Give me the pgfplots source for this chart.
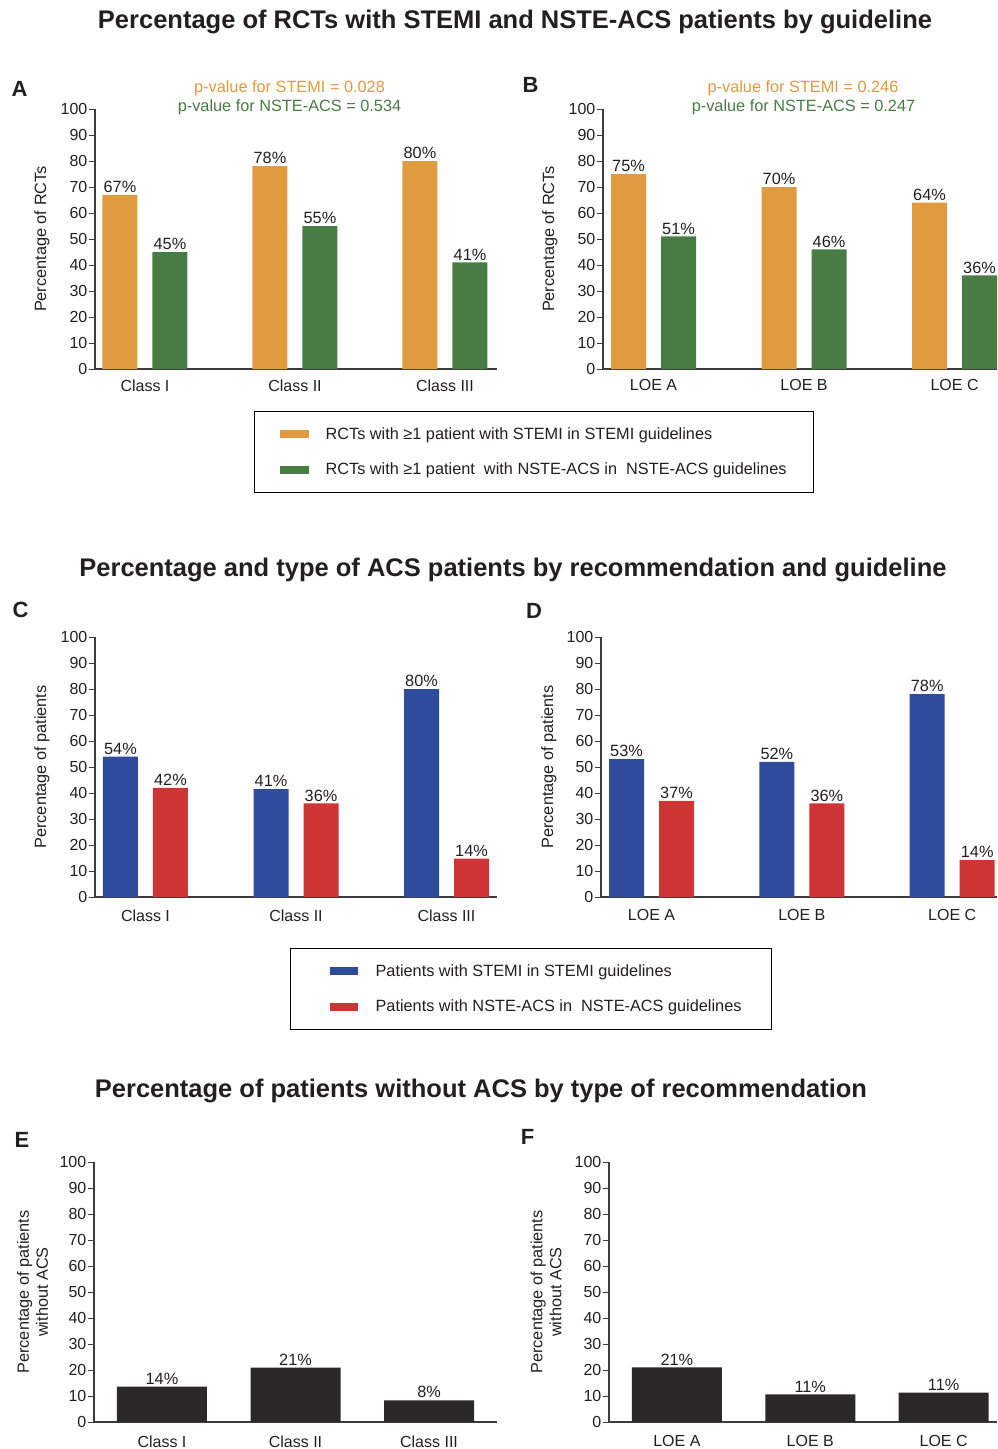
\documentclass[border=0pt]{standalone}
\usepackage{pgfplots}
\pgfplotsset{compat=1.18}
\usepackage{fontspec}
\setmainfont{Liberation Sans}
\definecolor{corange}{RGB}{224,154,64}
\definecolor{cgreen}{RGB}{72,124,68}
\definecolor{cblue}{RGB}{46,76,155}
\definecolor{cred}{RGB}{206,52,52}
\definecolor{cblack}{RGB}{42,40,41}
\definecolor{ctext}{RGB}{35,31,32}
\definecolor{caxis}{RGB}{60,60,60}
\newcommand\fs{\fontsize{16pt}{19pt}\selectfont}
\newcommand\fsb{\fontsize{16.3pt}{19pt}\selectfont}
\newcommand\fst{\fontsize{25.5pt}{30pt}\selectfont\bfseries}
\newcommand\fsl{\fontsize{22pt}{26pt}\selectfont\bfseries}
\pgfplotsset{
  panel/.style={
    scale only axis, anchor=south west, clip=false,
    height=260pt,
    ymin=0, ymax=100, ytick={0,10,...,100},
    axis x line=bottom, axis y line=left,
    axis line style={-, line width=1.3pt, color=caxis},
    xtick={0,1,2},
    major x tick style={draw=none},
    major y tick style={line width=1pt, color=caxis},
    tick align=outside, major tick length=6pt,
    tick label style={font=\fs, text=ctext},
    yticklabel style={inner sep=1.5pt},
    label style={font=\fsb, text=ctext},
    /pgf/number format/assume math mode=true,
    point meta=explicit,
    nodes near coords={\pgfmathprintnumber{\pgfplotspointmeta}\%},
    nodes near coords style={font=\fsb, text=ctext, inner sep=2pt},
    legend cell align=left,
  },
  bars/.style={ybar, draw=none, fill=#1, bar width=35pt},
  left bar/.style={bar shift=-25pt, every node near coord/.append style={xshift=-25pt}},
  right bar/.style={bar shift=25pt, every node near coord/.append style={xshift=25pt}},
}
\begin{document}
\begin{tikzpicture}
\useasboundingbox (0pt,0pt) rectangle (997pt,-1449pt);

% ---------- titles ----------
\node[font=\fst, text=ctext, anchor=base] at (515pt,-28.5pt) {Percentage of RCTs with STEMI and NSTE-ACS patients by guideline};
\node[font=\fst, text=ctext, anchor=base] at (513pt,-576.5pt) {Percentage and type of ACS patients by recommendation and guideline};
\node[font=\fst, text=ctext, anchor=base] at (481pt,-1097.5pt) {Percentage of patients without ACS by type of recommendation};

% ---------- panel letters ----------
\node[font=\fsl, text=ctext] at (19.5pt,-89pt) {A};
\node[font=\fsl, text=ctext] at (530.5pt,-84.5pt) {B};
\node[font=\fsl, text=ctext] at (20.5pt,-610pt) {C};
\node[font=\fsl, text=ctext] at (534pt,-610.5pt) {D};
\node[font=\fsl, text=ctext] at (22pt,-1139.5pt) {E};
\node[font=\fsl, text=ctext] at (527.5pt,-1137pt) {F};

% ---------- p-values ----------
\node[font=\fsb, text=corange, anchor=base] at (289.5pt,-92pt) {p-value for STEMI = 0.028};
\node[font=\fsb, text=cgreen, anchor=base] at (289.5pt,-111.5pt) {p-value for NSTE-ACS = 0.534};
\node[font=\fsb, text=corange, anchor=base] at (803pt,-92pt) {p-value for STEMI = 0.246};
\node[font=\fsb, text=cgreen, anchor=base] at (803.5pt,-111.5pt) {p-value for NSTE-ACS = 0.247};

% ---------- Panel A ----------
\begin{axis}[panel, at={(95pt,-369pt)}, width=402pt,
  xmin=-0.3333, xmax=2.3467,
  xticklabels={Class I, Class II, Class III},
  xticklabel style={yshift=-1pt},
  ylabel={Percentage of RCTs},
  y label style={at={(axis description cs:-0.1318,0.5)}, anchor=center},
  legend style={at={(axis description cs:0.3955,-0.1615)}, anchor=north west,
    draw=black, line width=1.2pt, font=\fsb, text=ctext,
    inner xsep=25pt, inner ysep=14pt, row sep=18pt},
  legend image code/.code={\fill[#1, draw=none] (0pt,-4pt) rectangle (29pt,4pt); \path[draw=none, fill=none] (0pt,0pt) rectangle (44pt,0pt);},
  ]
\addplot[bars=corange, left bar] coordinates {(0,67) [67] (1,78) [78] (2,80) [80]};
\addlegendentry{RCTs with ≥1 patient with STEMI in STEMI guidelines}
\addplot[bars=cgreen, right bar] coordinates {(0,45) [45] (1,55) [55] (2,41) [41]};
\addlegendentry{RCTs with ≥1 patient~ with NSTE-ACS in~ NSTE-ACS guidelines}
\end{axis}

% ---------- Panel B ----------
\begin{axis}[panel, at={(603pt,-369pt)}, width=394pt,
  xmin=-0.3355, xmax=2.282,
  xticklabels={LOE A, LOE B, LOE C},
  xticklabel style={yshift=-1pt},
  ylabel={Percentage of RCTs},
  y label style={at={(axis description cs:-0.1345,0.5)}, anchor=center},
  ]
\addplot[bars=corange, left bar] coordinates {(0,75) [75] (1,70) [70] (2,64) [64]};
\addplot[bars=cgreen, right bar] coordinates {(0,51) [51] (1,46) [46] (2,36) [36]};
\end{axis}

% ---------- Panel C ----------
\begin{axis}[panel, at={(95pt,-897pt)}, width=402pt,
  xmin=-0.3355, xmax=2.3355,
  xticklabels={Class I, Class II, Class III},
  xticklabel style={yshift=-3pt},
  ylabel={Percentage of patients},
  y label style={at={(axis description cs:-0.1318,0.5)}, anchor=center},
  legend style={at={(axis description cs:0.485,-0.196)}, anchor=north west,
    draw=black, line width=1.2pt, font=\fsb, text=ctext,
    inner xsep=28pt, inner ysep=14pt, row sep=18pt},
  legend image code/.code={\fill[#1, draw=none] (0pt,-4pt) rectangle (28pt,4pt); \path[draw=none, fill=none] (-11pt,0pt) rectangle (44pt,0pt);},
  ]
\addplot[bars=cblue, left bar] coordinates {(0,54) [54] (1,41.5) [41] (2,80) [80]};
\addlegendentry{Patients with STEMI in STEMI guidelines}
\addplot[bars=cred, right bar] coordinates {(0,42) [42] (1,36) [36] (2,14.8) [14]};
\addlegendentry{Patients with NSTE-ACS in~ NSTE-ACS guidelines}
\end{axis}

% ---------- Panel D ----------
\begin{axis}[panel, at={(601pt,-897pt)}, width=396pt,
  xmin=-0.336, xmax=2.298,
  xticklabels={LOE A, LOE B, LOE C},
  xticklabel style={yshift=-3pt},
  ylabel={Percentage of patients},
  y label style={at={(axis description cs:-0.1313,0.5)}, anchor=center},
  ]
\addplot[bars=cblue, left bar] coordinates {(0,53) [53] (1,52) [52] (2,78) [78]};
\addplot[bars=cred, right bar] coordinates {(0,37) [37] (1,36) [36] (2,14.2) [14]};
\end{axis}

% ---------- Panel E ----------
\begin{axis}[panel, at={(94pt,-1422pt)}, width=403pt,
  xmin=-0.509, xmax=2.509,
  xticklabels={Class I, Class II, Class III},
  xticklabel style={yshift=-4pt},
  ylabel={Percentage of patients\\without ACS},
  y label style={at={(axis description cs:-0.1526,0.5)}, anchor=center, align=center},
  ]
\addplot[bars=cblack, bar width=90pt] coordinates {(0,13.6) [14] (1,20.9) [21] (2,8.35) [8]};
\end{axis}

% ---------- Panel F ----------
\begin{axis}[panel, at={(609pt,-1422pt)}, width=388pt,
  xmin=-0.509, xmax=2.4,
  xticklabels={LOE A, LOE B, LOE C},
  xticklabel style={yshift=-4pt},
  ylabel={Percentage of patients\\without ACS},
  y label style={at={(axis description cs:-0.162,0.5)}, anchor=center, align=center},
  ]
\addplot[bars=cblack, bar width=90pt] coordinates {(0,21) [21] (1,10.6) [11] (2,11.3) [11]};
\end{axis}
\end{tikzpicture}
\end{document}
